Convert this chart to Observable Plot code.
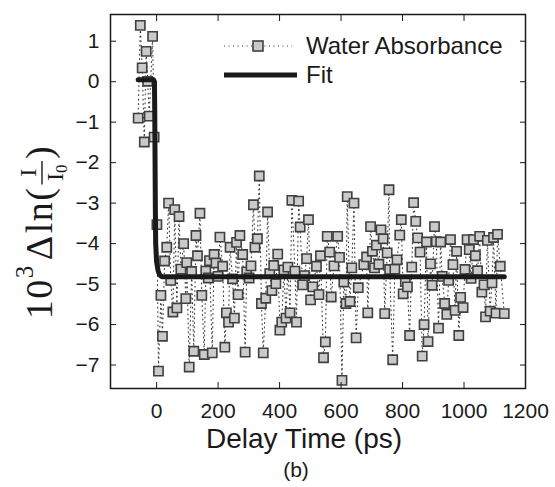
<!DOCTYPE html>
<html><head><meta charset="utf-8">
<script src="https://cdn.jsdelivr.net/npm/d3@7"></script>
<script src="https://cdn.jsdelivr.net/npm/@observablehq/plot@0.6"></script>
<style>body{margin:0;background:#fff;} svg{display:block}</style>
</head><body><div id="chart"></div>
<script>
const delayTimes = [-60,-53,-47,-40,-34,-29,-24,-13,-8,1,
 6,14,19,26,33,39,46,53,59,66,73,79,88,95,98,106,114,121,128,133,141,147,155,160,168,172,181,187,193,200,
 206,215,222,227,234,239,247,253,260,265,271,280,288,293,301,307,315,320,328,334,341,347,355,361,368,375,381,388,394,
 401,407,414,421,427,434,440,450,455,462,467,475,481,488,494,501,508,520,528,533,543,549,555,563,568,577,589,595,
 603,609,616,620,629,635,642,649,656,674,683,687,696,702,709,715,723,730,737,742,750,756,758,768,775,782,791,796,
 802,809,816,823,830,836,843,849,857,864,870,878,883,891,896,904,910,917,924,929,937,944,950,956,964,971,976,983,989,997,
 1003,1010,1017,1023,1031,1037,1044,1051,1058,1065,1070,1076,1085,1091,1096,1104,1109,1118,1131];
const absorbance = [-0.90,1.39,0.34,-1.49,0.75,0.01,-0.85,1.12,-1.37,-3.53,
 -7.15,-5.28,-6.29,-4.43,-4.09,-3.00,-4.91,-5.69,-3.16,-5.59,-3.33,-4.63,-4.00,-5.36,-4.47,-7.05,-4.69,-6.66,-3.80,-4.30,-3.25,-5.28,-6.74,-4.68,-4.85,-4.42,-6.70,-4.27,-4.48,-4.81,
 -3.84,-4.56,-6.56,-5.71,-5.94,-4.09,-4.87,-5.84,-3.97,-5.26,-3.80,-4.27,-6.68,-4.70,-4.85,-4.55,-3.04,-4.09,-3.88,-2.33,-5.48,-6.70,-5.35,-3.22,-4.74,-5.16,-4.54,-4.99,-4.26,
 -6.14,-5.94,-4.65,-5.84,-4.58,-5.71,-2.93,-4.68,-5.94,-2.95,-3.59,-5.02,-4.79,-4.37,-3.41,-5.39,-5.07,-4.56,-5.26,-4.30,-6.82,-6.43,-3.82,-4.21,-5.32,-4.55,-3.82,-4.34,
 -7.38,-4.95,-5.48,-2.84,-5.43,-4.60,-3.00,-6.33,-5.09,-4.52,-4.33,-5.71,-3.58,-4.19,-4.60,-4.04,-4.51,-3.66,-3.88,-5.73,-4.23,-2.67,-4.64,-6.87,-4.63,-4.40,-3.79,-3.41,
 -5.24,-4.94,-5.07,-6.27,-4.58,-2.99,-3.45,-3.86,-4.21,-6.78,-6.00,-3.96,-6.42,-4.50,-5.03,-3.58,-3.95,-6.09,-3.96,-4.81,-5.48,-5.75,-4.91,-3.90,-4.52,-5.65,-4.19,-6.27,-5.33,-5.58,
 -4.64,-3.90,-4.15,-4.86,-3.90,-4.30,-4.67,-3.82,-5.20,-5.02,-5.81,-3.92,-5.67,-4.97,-3.85,-5.72,-3.77,-4.56,-5.73];
const fitTimes  = [-60,-10,-7,-6,-5,-4,-3,0,5,10,15,20,1131];
const fitValues = [0.05,0.05,0.0,-0.8,-2.0,-3.2,-4.0,-4.45,-4.68,-4.77,-4.81,-4.82,-4.82];
const xTicks = [0,200,400,600,800,1000,1200];
const yTicks = [-7,-6,-5,-4,-3,-2,-1,0,1];
const seriesNames = ["Water Absorbance","Fit"];
const xLabel = "Delay Time (ps)";
const panelLabel = "(b)";

const points = delayTimes.map((t,i)=>({t, v: absorbance[i]}));
const fit = fitTimes.map((t,i)=>({t, v: fitValues[i]}));
const font = "'Liberation Sans', Arial, Helvetica, sans-serif";
const ink = "#1a1a1a";

const chart = Plot.plot({
  width: 555, height: 487,
  marginLeft: 110, marginRight: 30, marginTop: 14, marginBottom: 99,
  style: {fontFamily: font, background: "white", color: ink},
  x: {domain: [-150, 1200]},
  y: {domain: [-7.58, 1.66]},
  marks: [
    Plot.line(points, {x:"t", y:"v", stroke:"#333", strokeWidth:1, strokeDasharray:"1 3.5"}),
    Plot.dot(points, {x:"t", y:"v", symbol:"square", r:5.2, fill:"#cacaca", stroke:"#404040", strokeWidth:1.6}),
    Plot.line(fit, {x:"t", y:"v", stroke:ink, strokeWidth:5}),
    Plot.frame({stroke:ink, strokeWidth:1.5}),
    Plot.axisX(xTicks, {anchor:"bottom", tickSize:-6, tickPadding:21, fontSize:21, label:null, tickFormat: d => String(d)}),
    Plot.axisX(xTicks, {anchor:"top", tickSize:-6, tickFormat:()=>"", label:null}),
    Plot.axisY(yTicks, {anchor:"left", tickSize:-6, tickPadding:17, fontSize:21, label:null}),
    Plot.axisY(yTicks, {anchor:"right", tickSize:-6, tickFormat:()=>"", label:null}),
    Plot.text([xLabel], {frameAnchor:"bottom", dy:59, dx:-14, fontSize:28, fill:ink}),
    Plot.text([panelLabel], {frameAnchor:"bottom", dy:88, dx:-22, fontSize:21, fill:ink})
  ]
});
document.getElementById("chart").append(chart);

const svg = d3.select(chart);
// legend
const lg = svg.append("g").attr("font-family", font).attr("fill", ink).attr("text-anchor","start");
lg.append("line").attr("x1",224).attr("x2",292).attr("y1",46).attr("y2",46)
  .attr("stroke","#333").attr("stroke-dasharray","1 3.5");
lg.append("rect").attr("x",253).attr("y",41).attr("width",10).attr("height",10)
  .attr("fill","#cacaca").attr("stroke","#404040").attr("stroke-width",1.6);
lg.append("text").attr("x",306).attr("y",46).attr("dy","0.35em").attr("font-size",24).text(seriesNames[0]);
lg.append("line").attr("x1",224).attr("x2",297).attr("y1",75).attr("y2",75)
  .attr("stroke",ink).attr("stroke-width",5);
lg.append("text").attr("x",306).attr("y",75).attr("dy","0.35em").attr("font-size",24).text(seriesNames[1]);

// y label: 10^3 Δln(I/I0)
const outer = svg.append("g").attr("transform","translate(40,232) rotate(-90)");
const g = outer.append("g").attr("font-family","'Liberation Serif','Times New Roman',serif").attr("fill",ink).attr("text-anchor","start");
let cx = 0;
function piece(str, size, y){
  const t = g.append("text").attr("x",cx).attr("y",y).attr("font-size",size).attr("letter-spacing",1.5).text(str);
  const w = t.node().getComputedTextLength(); cx += w; return w;
}
piece("10", 38, 12);
piece("3", 25, -7);
cx += 4;
piece("Δ", 38, 12);
cx += 1;
piece("ln(", 38, 12);
const fx = cx + 2;
const numT = g.append("text").attr("y",-4).attr("font-size",24).text("I");
const denT = g.append("text").attr("y",23).attr("font-size",24).text("I");
const subT = g.append("text").attr("y",27).attr("font-size",17).text("0");
const nw = numT.node().getComputedTextLength();
const dw = denT.node().getComputedTextLength();
const sw = subT.node().getComputedTextLength();
const fw = Math.max(nw, dw+sw) + 7;
numT.attr("x", fx + (fw-nw)/2);
denT.attr("x", fx + (fw-dw-sw)/2);
subT.attr("x", fx + (fw-dw-sw)/2 + dw);
g.append("line").attr("x1",fx).attr("x2",fx+fw).attr("y1",2).attr("y2",2).attr("stroke",ink).attr("stroke-width",1.4);
cx = fx + fw + 2;
piece(")", 38, 12);
g.attr("transform", `translate(${-cx/2},0)`);
</script></body></html>
